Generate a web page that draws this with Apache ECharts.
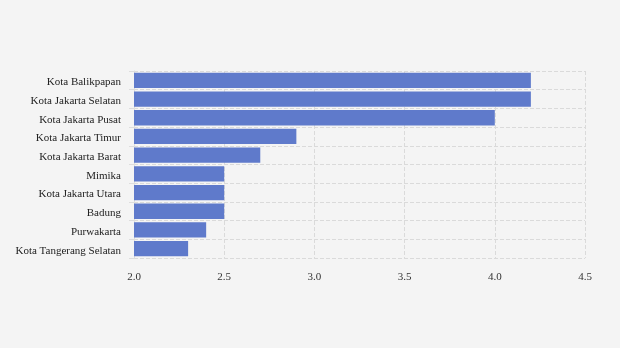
<!DOCTYPE html>
<html><head><meta charset="utf-8">
<script src="https://cdn.jsdelivr.net/npm/echarts@6/dist/echarts.min.js"></script>
<style>html,body{margin:0;padding:0;background:#f4f4f4}#c{width:620px;height:348px}</style>
</head><body><div id="c"></div>
<script>
const categories = ["Kota Balikpapan","Kota Jakarta Selatan","Kota Jakarta Pusat","Kota Jakarta Timur","Kota Jakarta Barat","Mimika","Kota Jakarta Utara","Badung","Purwakarta","Kota Tangerang Selatan"];
const values = [4.2,4.2,4.0,2.9,2.7,2.5,2.5,2.5,2.4,2.3];
const chart = echarts.init(document.getElementById('c'));
const font = '"Liberation Serif", "Times New Roman", serif';
chart.setOption({
  backgroundColor:'#f4f4f4',
  animation:false,
  grid:{left:134,right:35,top:71,bottom:90,containLabel:false},
  xAxis:{type:'value',min:2.0,max:4.5,interval:0.5,
    axisLine:{show:false},axisTick:{show:false},
    axisLabel:{fontFamily:font,fontSize:11,color:'#333',margin:14,formatter:v=>v.toFixed(1)},
    splitLine:{show:true,lineStyle:{type:[4,2],color:'#dadada'}}},
  yAxis:{type:'category',data:categories,inverse:true,
    axisLine:{show:true,lineStyle:{color:'#dddddd'}},
    axisTick:{show:true,lineStyle:{color:'#dddddd'}},
    axisLabel:{fontFamily:font,fontSize:11,color:'#222',margin:13,
      formatter:v=>'{a|'+v+'}',
      rich:{a:{fontFamily:font,fontSize:11,color:'#222',padding:[4,0,0,0]}}},
    splitLine:{show:true,lineStyle:{type:[4,2],color:'#dadada'}}},
  series:[{type:'bar',data:values,barCategoryGap:'18%',itemStyle:{color:'#5f7acb'}}]
});
</script></body></html>
